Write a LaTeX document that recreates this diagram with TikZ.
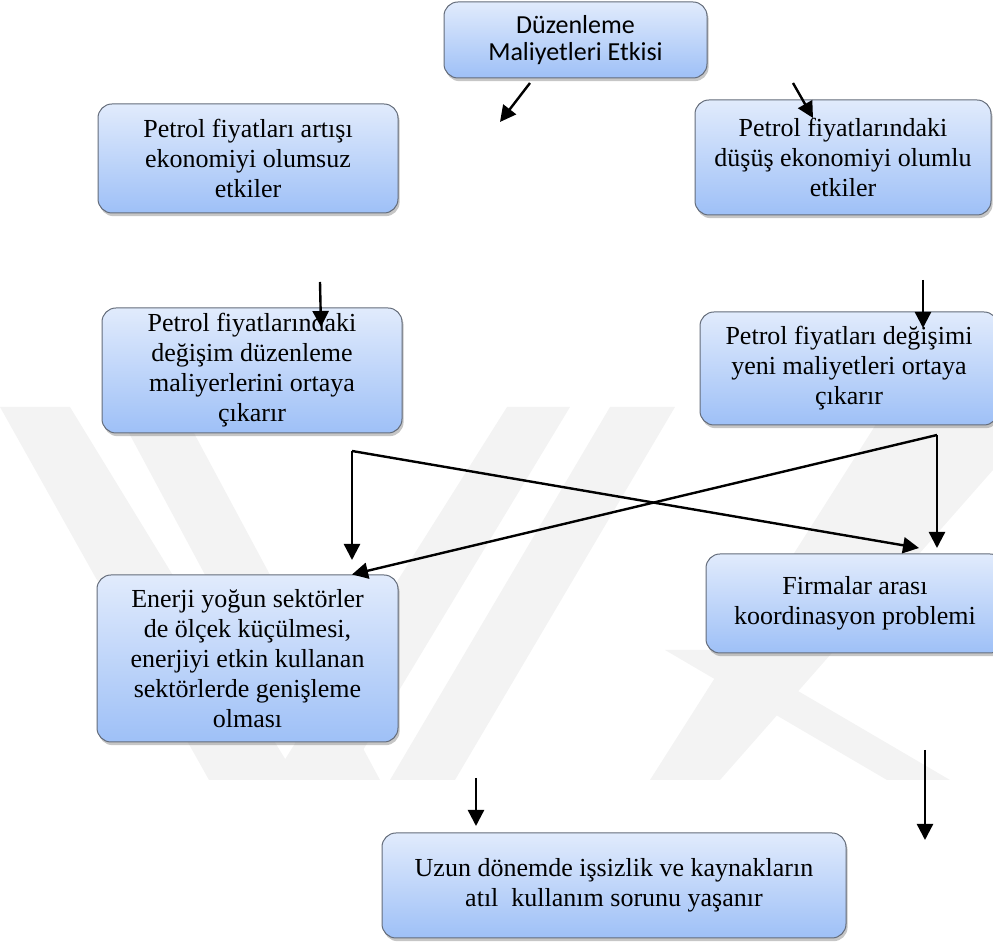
\documentclass[tikz,border=0pt]{standalone}
\usepackage{fontspec}
\setmainfont{Liberation Serif}
\newfontfamily\kopfschrift{Carlito}
\usepackage{tikz}
\usetikzlibrary{arrows.meta}
\usetikzlibrary{shadows}
\definecolor{kastenoben}{RGB}{225,235,252}
\definecolor{kastenunten}{RGB}{158,192,247}
\definecolor{kastenrand}{RGB}{100,108,122}
\definecolor{wasserzeichen}{RGB}{243,243,243}

\begin{document}
\begin{tikzpicture}[x=0.5pt,y=-0.5pt,
        kasten/.style={rectangle,rounded corners=7pt,draw=kastenrand,line width=0.5pt,
            top color=kastenoben,bottom color=kastenunten,align=center,inner sep=0pt,
            font=\fontsize{13}{15}\selectfont,
            drop shadow={shadow xshift=0.8pt,shadow yshift=-1.6pt,opacity=0.45}},
        pfeil/.style={-{Triangle[length=8pt,width=8pt]},line width=1.2pt}]
            \useasboundingbox (0,0) rectangle (993,945);
            % Wasserzeichen
            \fill[wasserzeichen] (0,407) -- (70,407) -- (298,780) -- (209,780) -- cycle;
            \fill[wasserzeichen] (115,407) -- (180,407) -- (380,780) -- (315,780) -- cycle;
            \fill[wasserzeichen] (507,407) -- (570,407) -- (345,780) -- (272,780) -- cycle;
            \fill[wasserzeichen] (610,407) -- (675,407) -- (455,780) -- (390,780) -- cycle;
            \fill[wasserzeichen] (887,407) -- (993,407) -- (993,470) -- (720,780) -- (650,780) -- cycle;
            \fill[wasserzeichen] (665,650) -- (728,650) -- (950,780) -- (887,780) -- cycle;

            % Kaesten
            \node[kasten,minimum width=131.5pt,minimum height=38pt,
                font=\kopfschrift\fontsize{13}{13.5}\selectfont] (kopf) at (575.5,40)
                {Düzenleme\\Maliyetleri Etkisi};
            \node[kasten,minimum width=150pt,minimum height=54.5pt] (artis) at (248,158.5)
                {Petrol fiyatları artışı\\ekonomiyi olumsuz\\etkiler};
            \node[kasten,minimum width=148pt,minimum height=57.5pt] (dusus) at (843,157.5)
                {Petrol fiyatlarındaki\\düşüş ekonomiyi olumlu\\etkiler};
            \node[kasten,minimum width=150pt,minimum height=62.5pt] (degisim) at (252,370.5)
                {Petrol fiyatlarındaki\\değişim düzenleme\\maliyerlerini ortaya\\çıkarır};
            \node[kasten,minimum width=149pt,minimum height=56.5pt] (maliyet) at (849,368.5)
                {Petrol fiyatları değişimi\\yeni maliyetleri ortaya\\çıkarır};
            \node[kasten,minimum width=150.5pt,minimum height=83.5pt] (enerji) at (247.5,658.5)
                {Enerji yoğun sektörler\\de ölçek küçülmesi,\\enerjiyi etkin kullanan\\sektörlerde genişleme\\olması};
            \node[kasten,minimum width=149pt,minimum height=49.5pt] (firma) at (855,603.5)
                {Firmalar arası\\koordinasyon problemi};
            \node[kasten,minimum width=232pt,minimum height=52.5pt] (issizlik) at (614,885.5)
                {Uzun dönemde işsizlik ve kaynakların\\atıl\ \ kullanım sorunu yaşanır};

            %Pfeile:
            \coordinate (k1) at (530,83);
            \coordinate (k1e) at (500,122);
            \coordinate (k2) at (793,83);
            \coordinate (k2e) at (813,118);
            \coordinate (l1) at (320,282);
            \coordinate (l1e) at (321,327);
            \coordinate (r1) at (923,280);
            \coordinate (r1e) at (923,328);
            \coordinate (jl) at (352,451);
            \coordinate (jle) at (352,560);
            \coordinate (jr) at (937,435);
            \coordinate (jre) at (937,548);
            \coordinate (kreuz) at (919,548);
            \coordinate (u1) at (476,778);
            \coordinate (u1e) at (476,826);
            \coordinate (u2) at (925,750);
            \coordinate (u2e) at (925,840);

            \draw[pfeil] (k1) -- (k1e);
            \draw[pfeil] (k2) -- (k2e);
            \draw[pfeil] (l1) -- (l1e);
            \draw[pfeil] (r1) -- (r1e);
            \draw[pfeil] (jl) -- (jle);
            \draw[pfeil] (jl) -- (kreuz);
            \draw[pfeil] (jr) -- (jre);
            \draw[pfeil] (jr) -- (enerji.north -| jl);
            \draw[pfeil] (u1) -- (u1e);
            \draw[pfeil] (u2) -- (u2e);
\end{tikzpicture}
\end{document}
